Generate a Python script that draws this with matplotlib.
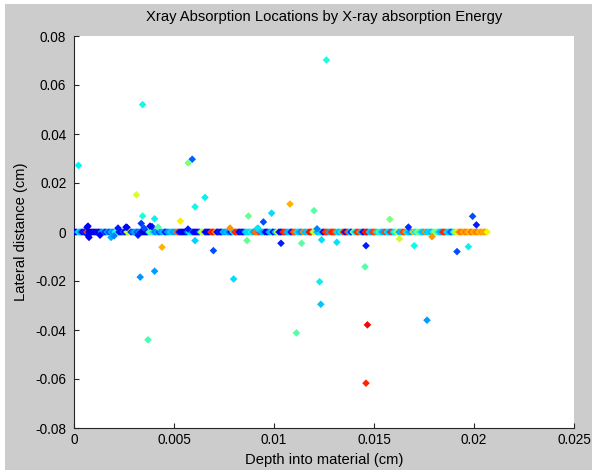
import matplotlib
matplotlib.use("Agg")
import matplotlib.pyplot as plt
from matplotlib.patches import Rectangle
import numpy as np

# Scattered absorption events away from the beam axis: depth (cm), lateral (cm), energy (0-1 colour scale)
outlier_depth = [0.00022, 0.00343, 0.01262, 0.00591, 0.00571, 0.00312, 0.00655, 0.00605,
                 0.01080, 0.00988, 0.01200, 0.00872, 0.00343, 0.00403, 0.00532, 0.00336,
                 0.00390, 0.00947, 0.01579, 0.01672, 0.01993, 0.02012, 0.00065, 0.00265,
                 0.00915, 0.01215, 0.00075, 0.00185, 0.00605, 0.00865, 0.00440, 0.00697,
                 0.01035, 0.01138, 0.01238, 0.01314, 0.01460, 0.01627, 0.01790, 0.01701,
                 0.01915, 0.01972, 0.01455, 0.00403, 0.00331, 0.00798, 0.01228, 0.01234,
                 0.01467, 0.01765, 0.01112, 0.00370, 0.01460,
                 0.00070, 0.00070, 0.00130, 0.00200, 0.00220, 0.00260, 0.00320, 0.00350,
                 0.00380, 0.00420, 0.00570, 0.00780, 0.00920]
outlier_lateral = [0.0272, 0.0520, 0.0702, 0.0297, 0.0282, 0.0152, 0.0141, 0.0103,
                   0.0114, 0.0077, 0.0087, 0.0065, 0.0065, 0.0054, 0.0045, 0.0035,
                   0.0022, 0.0041, 0.0052, 0.0020, 0.0064, 0.0029, 0.0019, 0.0019,
                   0.0013, 0.0013, -0.0022, -0.0022, -0.0035, -0.0035, -0.0062, -0.0076,
                   -0.0046, -0.0046, -0.0032, -0.0042, -0.0056, -0.0028, -0.0019, -0.0056,
                   -0.0080, -0.0060, -0.0142, -0.0160, -0.0184, -0.0192, -0.0203, -0.0295,
                   -0.0379, -0.0360, -0.0412, -0.0440, -0.0617,
                   0.0024, -0.0014, -0.0013, -0.0016, 0.0016, 0.0020, -0.0013, 0.0016,
                   0.0024, 0.0020, 0.0012, 0.0016, 0.0016]
outlier_energy = [0.36, 0.37, 0.38, 0.22, 0.50, 0.62, 0.36, 0.37,
                  0.72, 0.34, 0.45, 0.48, 0.38, 0.36, 0.66, 0.18,
                  0.15, 0.20, 0.50, 0.17, 0.20, 0.15, 0.12, 0.12,
                  0.33, 0.25, 0.12, 0.30, 0.33, 0.47, 0.72, 0.20,
                  0.15, 0.45, 0.34, 0.35, 0.15, 0.60, 0.75, 0.37,
                  0.20, 0.36, 0.45, 0.28, 0.27, 0.34, 0.36, 0.32,
                  0.90, 0.28, 0.45, 0.43, 0.87,
                  0.12, 0.10, 0.12, 0.25, 0.15, 0.12, 0.15, 0.20,
                  0.12, 0.45, 0.15, 0.75, 0.35]

# On-axis absorption events (lateral distance 0): depth in units of 1e-4 cm and energy
axis_depth_1e4 = [0.0, 1.0, 2.0, 3.0, 4.0, 5.0, 6.5, 7.5, 8.5, 9.5, 10.5, 11.5, 12.5, 13.5,
                  14.5, 15.5, 16.5, 17.5, 18.5, 19.5, 20.5, 21.5, 22.5, 23.5, 24.5, 25.5,
                  26.5, 27.5, 28.5, 29.5, 30.5, 31.5, 32.5, 33.5, 34.5, 35.5, 36.5, 37.5,
                  38.5, 39.5, 40.5, 41.5, 42.5, 43.5, 44.5, 45.5, 46.5, 47.5, 48.5, 49.5,
                  50.5, 51.5, 52.5, 53.5, 54.5, 55.5, 56.5, 57.5, 58.5, 59.5, 60.5, 61.5,
                  62.5, 63.5, 64.5, 65.5, 66.5, 67.5, 68.5, 69.5, 70.5, 71.5, 72.5, 73.5,
                  74.5, 75.5, 76.5, 77.5, 78.5, 79.5, 80.5, 81.5, 82.5, 83.5, 84.5, 85.5,
                  86.5, 87.5, 88.5, 89.5, 90.5, 91.5, 92.5, 93.5, 94.5, 95.5, 96.5, 97.5,
                  98.5, 99.5, 100.5, 101.5, 102.5, 103.5, 104.5, 105.5, 106.5, 107.5,
                  108.5, 109.5, 110.5, 111.5, 112.5, 113.5, 114.5, 115.5, 116.5, 117.5,
                  118.5, 119.5, 120.5, 121.5, 122.5, 123.5, 124.5, 125.5, 126.5, 127.5,
                  128.5, 129.5, 130.5, 131.5, 132.5, 133.5, 134.5, 135.5, 136.5, 137.5,
                  138.5, 139.5, 140.5, 141.5, 142.5, 143.5, 144.5, 145.5, 146.5, 147.5,
                  148.5, 149.5, 150.5, 151.5, 152.5, 153.5, 154.5, 155.5, 156.5, 157.5,
                  158.5, 159.5, 160.5, 161.5, 162.5, 163.5, 164.5, 165.5, 166.5, 167.5,
                  168.5, 169.5, 170.5, 171.5, 172.5, 173.5, 174.5, 175.5, 176.5, 177.5,
                  178.5, 179.5, 180.5, 181.5, 182.5, 183.5, 184.5, 185.5, 186.5, 187.5,
                  188.5, 189.5, 190.5, 191.5, 192.5, 193.5, 194.5, 195.5, 196.5, 197.5,
                  198.5, 199.5, 200.5, 201.5, 202.5, 203.5, 204.5, 205.5, 206.5]
axis_energy = [0.05, 0.10, 0.34, 0.30, 0.12, 0.15, 0.85, 0.08, 0.05, 0.12, 0.08, 0.14, 0.06, 0.25,
               0.30, 0.15, 0.28, 0.20, 0.30, 0.26, 0.37, 0.40, 0.15, 0.12, 0.20, 0.10,
               0.55, 0.62, 0.18, 0.25, 0.30, 0.20, 0.27, 0.15, 0.08, 0.06, 0.10, 0.40,
               0.50, 0.35, 0.25, 0.30, 0.20, 0.28, 0.32, 0.15, 0.25, 0.30, 0.33, 0.28,
               0.30, 0.80, 0.15, 0.10, 0.12, 0.08, 0.20, 0.36, 0.33, 0.15, 0.12, 0.10,
               0.18, 0.55, 0.60, 0.15, 0.08, 0.12, 0.86, 0.90, 0.75, 0.12, 0.15, 0.10,
               0.30, 0.28, 0.32, 0.25, 0.15, 0.35, 0.88, 0.85, 0.12, 0.15, 0.10, 0.30,
               0.35, 0.33, 0.38, 0.30, 0.80, 0.78, 0.85, 0.30, 0.32, 0.15, 0.12, 0.28,
               0.33, 0.10, 0.30, 0.60, 0.15, 0.12, 0.88, 0.85, 0.30, 0.32,
               0.12, 0.85, 0.80, 0.35, 0.30, 0.25, 0.75, 0.30, 0.33, 0.88,
               0.90, 0.55, 0.60, 0.30, 0.35, 0.33, 0.12, 0.88, 0.85, 0.30,
               0.86, 0.88, 0.82, 0.35, 0.30, 0.38, 0.85, 0.10, 0.88, 0.32,
               0.15, 0.50, 0.35, 0.88, 0.80, 0.30, 0.12, 0.88, 0.90, 0.33,
               0.30, 0.86, 0.80, 0.35, 0.45, 0.33, 0.30, 0.85, 0.35, 0.30,
               0.88, 0.33, 0.38, 0.60, 0.30, 0.32, 0.85, 0.78, 0.35, 0.30,
               0.28, 0.70, 0.35, 0.50, 0.45, 0.35, 0.30, 0.75, 0.32, 0.35,
               0.30, 0.38, 0.55, 0.45, 0.33, 0.30, 0.88, 0.85, 0.35, 0.30,
               0.20, 0.35, 0.55, 0.60, 0.75, 0.80, 0.72, 0.78, 0.75, 0.70,
               0.80, 0.72, 0.75, 0.78, 0.70, 0.75, 0.72, 0.75, 0.65]

x_ticks = [0, 0.005, 0.01, 0.015, 0.02, 0.025]
x_tick_labels = ["0", "0.005", "0.01", "0.015", "0.02", "0.025"]
y_ticks = [-0.08, -0.06, -0.04, -0.02, 0, 0.02, 0.04, 0.06, 0.08]
y_tick_labels = ["-0.08", "-0.06", "-0.04", "-0.02", "0", "0.02", "0.04", "0.06", "0.08"]

plt.rcParams["font.family"] = ["Liberation Sans", "DejaVu Sans"]
TICK_FS = 9.8
LABEL_FS = 10.6

fig = plt.figure(figsize=(5.99, 4.74), dpi=100)
fig.patch.set_facecolor("white")
# grey window area with a thin white margin
W, H = 599.0, 474.0
fig.patches.append(Rectangle((5 / W, 4 / H), (592 - 5) / W, (470 - 4) / H,
                             transform=fig.transFigure, facecolor="#cccccc",
                             edgecolor="none", zorder=-10))

ax = fig.add_axes([74 / W, 1 - 428 / H, 500 / W, 392 / H])
ax.set_facecolor("white")

cmap = plt.get_cmap("jet")
axis_depth = np.array(axis_depth_1e4) * 1e-4
ax.scatter(axis_depth, np.zeros_like(axis_depth), c=axis_energy, cmap=cmap,
           vmin=0, vmax=1, marker="D", s=15, linewidths=0, zorder=3)
ax.scatter(outlier_depth, outlier_lateral, c=outlier_energy, cmap=cmap,
           vmin=0, vmax=1, marker="D", s=15, linewidths=0, zorder=4)

ax.set_xlim(0, 0.025)
ax.set_ylim(-0.08, 0.08)
ax.set_xticks(x_ticks)
ax.set_xticklabels(x_tick_labels)
ax.set_yticks(y_ticks)
ax.set_yticklabels(y_tick_labels)

for side in ("top", "right"):
    ax.spines[side].set_visible(False)
for side in ("left", "bottom"):
    ax.spines[side].set_color("#262626")
    ax.spines[side].set_linewidth(0.8)

ax.tick_params(direction="in", length=3.6, width=0.8, color="#262626",
               labelsize=TICK_FS, labelcolor="black")
ax.tick_params(axis="y", pad=5.5)
ax.tick_params(axis="x", pad=3.5)

fig.text(0.5 * (74 + 574) / W, 1 - 17 / H,
         "Xray Absorption Locations by X-ray absorption Energy",
         ha="center", va="center", fontsize=LABEL_FS)
fig.text(0.5 * (74 + 574) / W, 1 - 460 / H, "Depth into material (cm)",
         ha="center", va="center", fontsize=LABEL_FS)
fig.text(21 / W, 1 - 232 / H, "Lateral distance (cm)", rotation=90,
         ha="center", va="center", fontsize=LABEL_FS)

fig.savefig("out.png", dpi=100, facecolor=fig.get_facecolor())
